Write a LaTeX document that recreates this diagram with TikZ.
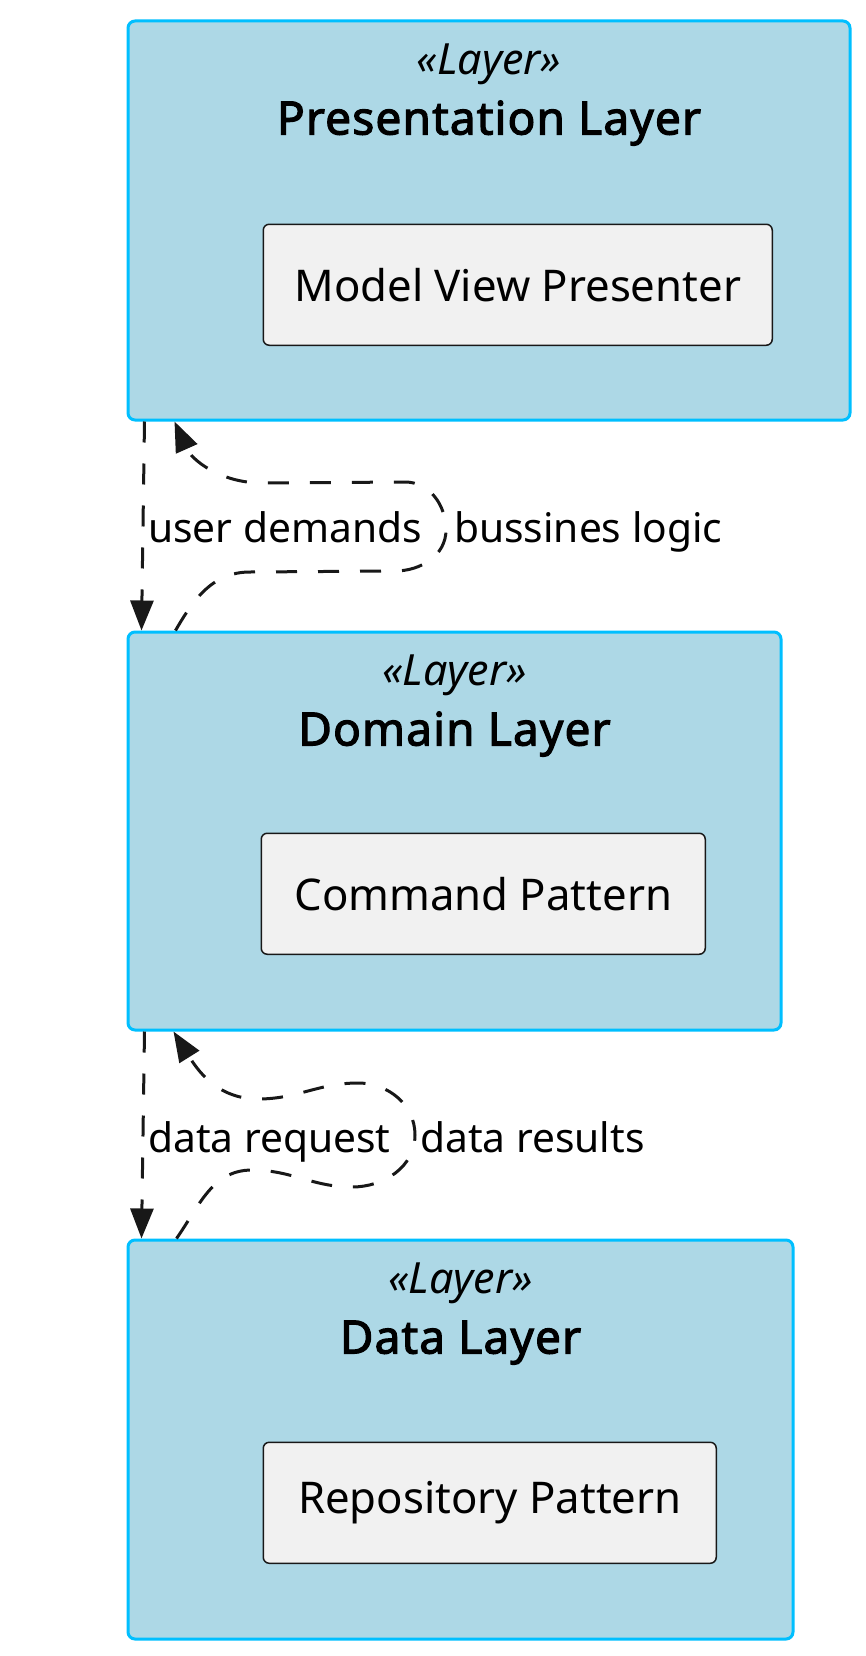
\documentclass[tikz,border=0pt]{standalone}
\usepackage{fontspec}
\setmainfont{Noto Sans}
\newfontfamily\titlefont{Noto Sans}[FakeBold=2.5,LetterSpace=2.5]
\usetikzlibrary{arrows.meta,positioning}
\definecolor{layerfill}{HTML}{ADD8E6}
\definecolor{layerline}{HTML}{00BFFF}
\definecolor{patfill}{HTML}{F1F1F1}
\definecolor{ink}{HTML}{181818}
\begin{document}
\begin{tikzpicture}[x=1pt, y=1pt,
  layerbox/.style={draw=layerline, fill=layerfill, line width=3pt, rounded corners=7pt, inner sep=0pt},
  patternbox/.style={draw=ink, fill=patfill, line width=1.5pt, rounded corners=6pt, minimum height=121pt,
    inner sep=0pt, anchor=north west, font=\fontsize{43.7}{52}\selectfont},
  stereo/.style={anchor=base, font=\fontsize{43}{52}\selectfont\itshape},
  layertitle/.style={anchor=base, font=\titlefont\fontsize{46}{52}\selectfont},
  flow/.style={draw=ink, line width=3pt, dash pattern=on 21pt off 21pt, -{Triangle[length=30pt,width=23pt]}},
  lbl/.style={anchor=base west, inner sep=0pt, font=\fontsize{40.7}{48}\selectfont}]
\useasboundingbox (0,0) rectangle (865,-1656);

% layers
\node[layerbox, minimum width=722pt, minimum height=399pt] (pres) at (489,-220.5) {};
\node[stereo] (presStereo) at ([yshift=-55pt]pres.north) {«Layer»};
\node[layertitle] (presTitle) at ([yshift=-115pt]pres.north) {Presentation Layer};
\node[patternbox, minimum width=509pt] (mvp) at ([xshift=136pt,yshift=-204pt]pres.north west) {Model View Presenter};

\node[layerbox, minimum width=653pt, minimum height=398pt] (dom) at (454.5,-831) {};
\node[stereo] (domStereo) at ([yshift=-55pt]dom.north) {«Layer»};
\node[layertitle] (domTitle) at ([yshift=-115pt]dom.north) {Domain Layer};
\node[patternbox, minimum width=444pt] (cmd) at ([xshift=134pt,yshift=-202pt]dom.north west) {Command Pattern};

\node[layerbox, minimum width=665pt, minimum height=399pt] (data) at (460.5,-1439.5) {};
\node[stereo] (dataStereo) at ([yshift=-55pt]data.north) {«Layer»};
\node[layertitle] (dataTitle) at ([yshift=-115pt]data.north) {Data Layer};
\node[patternbox, minimum width=453pt] (repo) at ([xshift=136pt,yshift=-203pt]data.north west) {Repository Pattern};

% presentation <-> domain
\draw[flow] ([xshift=18pt]pres.south west) -- ([xshift=15pt]dom.north west);
\draw[flow] ([xshift=49pt]dom.north west) to[out=60,in=180] (250,-572) -- (395,-571)
  to[out=0,in=-90] (446,-530) to[out=90,in=0] (405,-482) -- (262,-483)
  to[out=180,in=-66] ([xshift=48pt]pres.south west);
\node[lbl] (demands) at (148,-542) {user demands};
\node[lbl] (logic) at (454,-542) {bussines logic};

% domain <-> data
\draw[flow] ([xshift=18pt]dom.south west) -- ([xshift=15pt]data.north west);
\draw[flow] ([xshift=50pt]data.north west) to[out=55,in=180] (252,-1170) to[out=0,in=180] (352,-1187)
  to[out=0,in=-90] (415,-1135) to[out=90,in=0] (358,-1083) to[out=180,in=0] (258,-1099)
  to[out=180,in=-58] ([xshift=47pt]dom.south west);
\node[lbl] (request) at (148,-1152) {data request};
\node[lbl] (results) at (420,-1152) {data results};
\end{tikzpicture}
\end{document}
